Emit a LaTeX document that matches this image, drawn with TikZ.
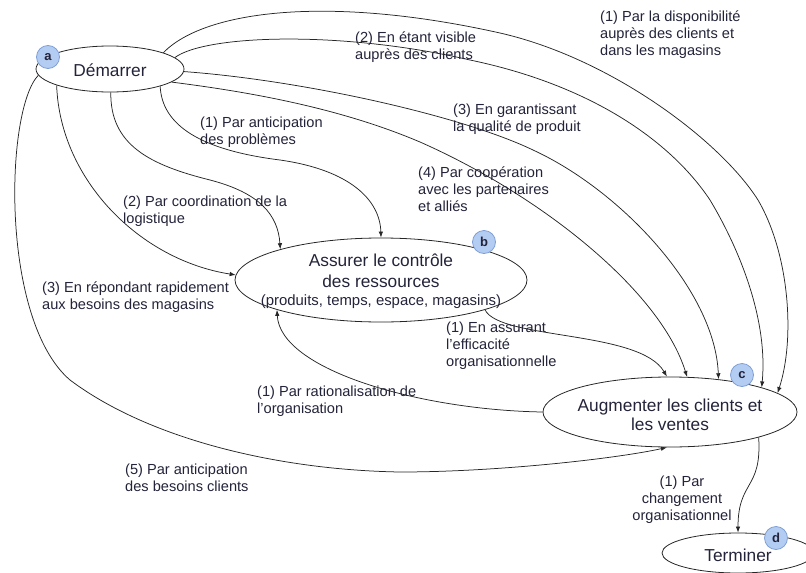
\documentclass[tikz,border=0pt]{standalone}
\usepackage{fontspec}
\setmainfont{Liberation Sans}
\usetikzlibrary{shapes.geometric,arrows.meta}
\definecolor{ink}{HTML}{23233A}
\definecolor{badgefill}{HTML}{B3CCF2}
\definecolor{badgeline}{HTML}{7F9FD6}
\begin{document}
\begin{tikzpicture}[x=1pt,y=-1pt,
  stage/.style={draw=black!85, line width=0.8pt, ellipse, inner sep=0pt},
  stagetext/.style={inner sep=0pt, text=ink, align=center, font=\fontsize{17.3}{19}\selectfont},
  badge/.style={circle, draw=badgeline, fill=badgefill, line width=0.8pt, minimum size=23pt, inner sep=0pt, text=ink, font=\fontsize{13}{13}\selectfont\bfseries},
  lbl/.style={anchor=north west, inner sep=0pt, text=ink, align=left, font=\fontsize{14.6}{17}\selectfont},
  link/.style={draw=black!85, line width=0.75pt, -{Latex[length=6pt,width=4.5pt]}},
]
\useasboundingbox (0,0) rectangle (806,573);

% stages
\node[stage, minimum width=148pt, minimum height=46pt] (dem) at (110,69) {};
\node[stage, minimum width=292pt, minimum height=84pt] (ass) at (381,280) {};
\node[stage, minimum width=254pt, minimum height=70pt] (aug) at (670,412) {};
\node[stage, minimum width=152pt, minimum height=40pt] (ter) at (738,553) {};

\node[stagetext] (demtext) at (110,70) {Démarrer};
\node[stagetext, font=\fontsize{17.3}{21}\selectfont] (asstext) at (381,281)
  {Assurer le contrôle\\des ressources\\[-3pt]{\fontsize{14.9}{17}\selectfont(produits, temps, espace, magasins)}};
\node[stagetext] (augtext) at (670,415) {Augmenter les clients et\\les ventes};
\node[stagetext] (tertext) at (738,555) {Terminer};

% links leaving "Démarrer"
\draw[link] (dem.17) .. controls (205,10) and (330,-5) .. (500,33)
  .. controls (610,58) and (720,140) .. (758,200)
  .. controls (790,255) and (795,340) .. (aug.10);
\draw[link] (dem.10) .. controls (205,35) and (340,30) .. (470,60)
  .. controls (590,85) and (670,140) .. (710,200)
  .. controls (740,250) and (768,320) .. (aug.15);
\draw[link] (dem.-2) .. controls (300,80) and (460,115) .. (533,150)
  .. controls (620,190) and (715,290) .. (aug.34);
\draw[link] (dem.-12) .. controls (250,92) and (340,108) .. (420,142)
  .. controls (540,195) and (660,290) .. (aug.64);
\draw[link] (dem.-19) .. controls (162,125) and (200,150) .. (280,160)
  .. controls (350,170) and (380,200) .. (ass.90);
\draw[link] (dem.-88) .. controls (110,145) and (150,165) .. (210,180)
  .. controls (260,193) and (278,215) .. (ass.163);
\draw[link] (dem.197) .. controls (60,180) and (140,260) .. (ass.178);
\draw[link] (dem.185) .. controls (5,110) and (0,320) .. (70,380)
  .. controls (150,440) and (280,470) .. (400,472)
  .. controls (500,472) and (620,458) .. (aug.-95);

% links between the other stages
\draw[link] (ass.-16) .. controls (500,340) and (640,330) .. (aug.95);
\draw[link] (aug.180) .. controls (420,410) and (280,370) .. (ass.196);
\draw[link] (aug.-16) .. controls (762,490) and (738,480) .. (ter.90);

% badges
\node[badge] (ba) at (48,57) {a};
\node[badge] (bb) at (484,242) {b};
\node[badge] (bc) at (742,375) {c};
\node[badge] (bd) at (776,538) {d};

% link captions
\node[lbl] (l1) at (600,11) {(1) Par la disponibilité\\auprès des clients et\\dans les magasins};
\node[lbl] (l2) at (355,32) {(2) En étant visible\\auprès des clients};
\node[lbl] (l3) at (453,104) {(3) En garantissant\\la qualité de produit};
\node[lbl] (l4) at (418,167) {(4) Par coopération\\avec les partenaires\\et alliés};
\node[lbl] (l5) at (200,117) {(1) Par anticipation\\des problèmes};
\node[lbl] (l6) at (123,196) {(2) Par coordination de la\\logistique};
\node[lbl] (l7) at (42,282) {(3) En répondant rapidement\\aux besoins des magasins};
\node[lbl] (l8) at (446,322) {(1) En assurant\\l’efficacité\\organisationnelle};
\node[lbl] (l9) at (257,386) {(1) Par rationalisation de\\l’organisation};
\node[lbl] (l10) at (125,464) {(5) Par anticipation\\des besoins clients};
\node[lbl, anchor=north, align=center] (l11) at (682,476) {(1) Par\\changement\\organisationnel};
\end{tikzpicture}
\end{document}
